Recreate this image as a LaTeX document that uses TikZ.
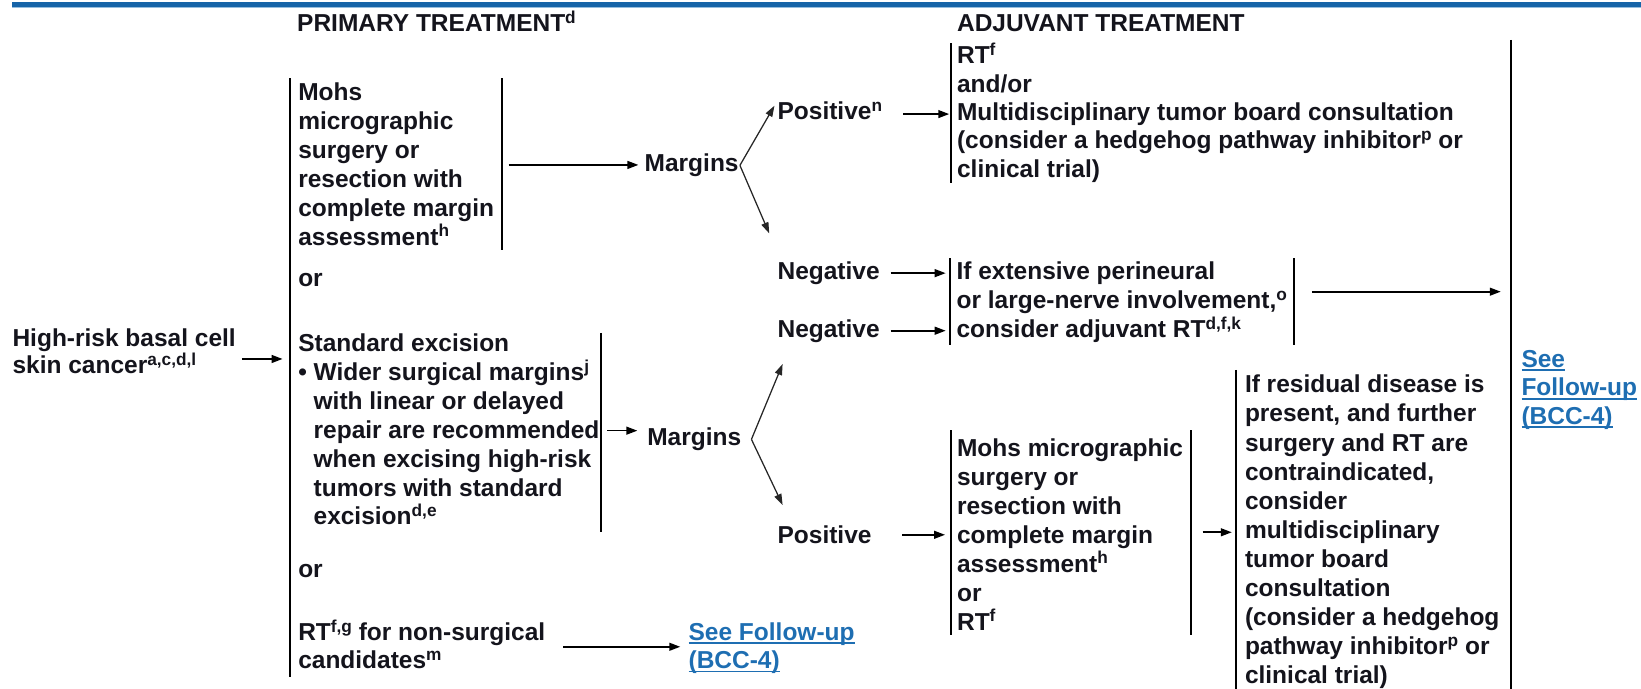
\documentclass[tikz,border=0pt]{standalone}
\usepackage{fontspec}
\setmainfont{Liberation Sans}
\usetikzlibrary{arrows.meta}

\definecolor{barblue}{RGB}{22,100,168}
\definecolor{barlight}{RGB}{150,190,222}
\definecolor{linkblue}{RGB}{30,110,178}
\definecolor{textdark}{RGB}{20,20,28}

% superscript footnote letters
\newcommand\sps[1]{\raisebox{8pt}{\fontsize{16.5}{16.5}\selectfont #1}}
% underlined hyperlink text
\newcommand\linkul[1]{\leavevmode\setbox0\hbox{#1}\rlap{\rule[-3.5pt]{\wd0}{1.6pt}}\box0}
\newcommand\bodyfont[1]{\fontsize{23.4}{#1}\selectfont\bfseries}

\begin{document}
\begin{tikzpicture}[x=1pt,y=-1pt,
  % multi-line text nodes are placed by the baseline of their last line
  txt/.style={anchor=base west, inner sep=0pt, outer sep=0pt, align=left,
              font=\bodyfont{27.6}, text=textdark},
  link/.style={txt, text=linkblue},
  rule/.style={line width=1.8pt, black},
  arr/.style={line width=1.6pt, -{Triangle[length=10.5pt,width=7.5pt]}},
  fork/.style={line width=1.2pt, draw=black!85, -{Triangle[length=10.5pt,width=7pt]}}]

\useasboundingbox (0,0) rectangle (1568,658);

% header bar
\fill[barblue] (11.5,1.5) rectangle (1568,6.5);
\fill[barlight] (11.5,6.5) rectangle (1568,7.8);

% column headings
\node[txt] (hprim) at (284,30.3) {PRIMARY TREATMENT\sps{d}};
\node[txt] (hadj) at (914.5,30.3) {ADJUVANT TREATMENT};

% diagnosis
\node[txt, font=\bodyfont{21}] (dx) at (12,357) {High-risk basal cell\\skin cancer\sps{a,c,d,l}};
\coordinate (dxout) at (231,343);
\coordinate (dxin) at (270,343);
\draw[arr] (dxout) -- (dxin);

% primary treatment column
\draw[rule] (277.5,74.7) coordinate (ptop) -- (277.5,646.5) coordinate (pbot);

\node[txt] (mohs) at (285,234.2) {Mohs\\micrographic\\surgery or\\resection with\\complete margin\\assessment\sps{h}};
\draw[rule] (480,74.7) -- (480,239);

\node[txt] (or1) at (285,274) {or};

\node[txt] (std) at (285,501.6) {Standard excision\\%
• Wider surgical margins\sps{j}\\%
\phantom{• }with linear or delayed\\%
\phantom{• }repair are recommended\\%
\phantom{• }when excising high-risk\\%
\phantom{• }tumors with standard\\%
\phantom{• }excision\sps{d,e}};
\draw[rule] (574,318) -- (574,508);

\node[txt] (or2) at (285,552) {or};

\node[txt, font=\bodyfont{27}] (rtns) at (285,639) {RT\sps{f,g} for non-surgical\\candidates\sps{m}};
\node[link, font=\bodyfont{27}] (fu1) at (658,639) {\linkul{See Follow-up}\\\linkul{(BCC-4)}};
\coordinate (rtout) at (538,618);
\coordinate (fu1in) at (650,618);
\draw[arr] (rtout) -- (fu1in);

% margins after Mohs surgery
\node[txt] (marg1) at (616,164) {Margins};
\coordinate (mohsout) at (486,157.6);
\coordinate (marg1in) at (610,157.6);
\draw[arr] (mohsout) -- (marg1in);
\coordinate (v1) at (707,158);
\coordinate (pos1tip) at (740,101);
\coordinate (neg1tip) at (735,223);
\draw[fork] (v1) -- (pos1tip);
\draw[fork] (v1) -- (neg1tip);

\node[txt] (pos1) at (743,114.5) {Positive\sps{n}};
\coordinate (pos1out) at (863,109);
\coordinate (rtin) at (907,109);
\draw[arr] (pos1out) -- (rtin);

\node[txt, font=\bodyfont{27.1}] (rtbox) at (914.5,169.4) {RT\sps{f}\\and/or\\Multidisciplinary tumor board consultation\\(consider a hedgehog pathway inhibitor\sps{p} or\\clinical trial)};
\draw[rule] (909,41.4) -- (909,175);

% negative margins
\node[txt] (neg1) at (743,267.5) {Negative};
\node[txt] (neg2) at (743,322.5) {Negative};
\coordinate (neg1out) at (851,261);
\coordinate (pn1in) at (903.6,261);
\coordinate (neg2out) at (851,316);
\coordinate (pn2in) at (903.6,316);
\draw[arr] (neg1out) -- (pn1in);
\draw[arr] (neg2out) -- (pn2in);

\node[txt, font=\bodyfont{27.5}] (pni) at (914,322.5) {If extensive perineural\\or large-nerve involvement,\sps{o}\\consider adjuvant RT\sps{d,f,k}};
\draw[rule] (907.5,246.8) -- (907.5,329.6);
\draw[rule] (1236,246.8) -- (1236,329.6);
\coordinate (pniout) at (1253.6,278.7);
\coordinate (fuin) at (1434,278.7);
\draw[arr] (pniout) -- (fuin);

% margins after standard excision
\node[txt] (marg2) at (618.5,426) {Margins};
\coordinate (stdout) at (580,411.5);
\coordinate (marg2in) at (609,411.5);
\draw[arr] (stdout) -- (marg2in);
\coordinate (v2) at (718,419.8);
\coordinate (neg2tip) at (747.8,347.8);
\coordinate (pos2tip) at (747.8,482.5);
\draw[fork] (v2) -- (neg2tip);
\draw[fork] (v2) -- (pos2tip);

\node[txt] (pos2) at (743,519) {Positive};
\coordinate (pos2out) at (862,511);
\coordinate (mohs2in) at (903,511);
\draw[arr] (pos2out) -- (mohs2in);

\node[txt] (mohs2) at (914.5,602.1) {Mohs micrographic\\surgery or\\resection with\\complete margin\\assessment\sps{h}\\or\\RT\sps{f}};
\draw[rule] (908.6,411) -- (908.6,606.7);
\draw[rule] (1137.6,411) -- (1137.6,606.7);
\coordinate (mohs2out) at (1149,508.6);
\coordinate (resin) at (1177,508.6);
\draw[arr] (mohs2out) -- (resin);

\node[txt, font=\bodyfont{27.8}] (res) at (1189.6,653.4) {If residual disease is\\present, and further\\surgery and RT are\\contraindicated,\\consider\\multidisciplinary\\tumor board\\consultation\\(consider a hedgehog\\pathway inhibitor\sps{p} or\\clinical trial)};
\draw[rule] (1180.6,353.5) -- (1180.6,658);

% follow-up column
\draw[rule] (1443.7,38.2) -- (1443.7,658);
\node[link, font=\bodyfont{27.3}] (fu2) at (1453.8,405.6) {\linkul{See}\\\linkul{Follow-up}\\\linkul{(BCC-4)}};

\end{tikzpicture}
\end{document}
